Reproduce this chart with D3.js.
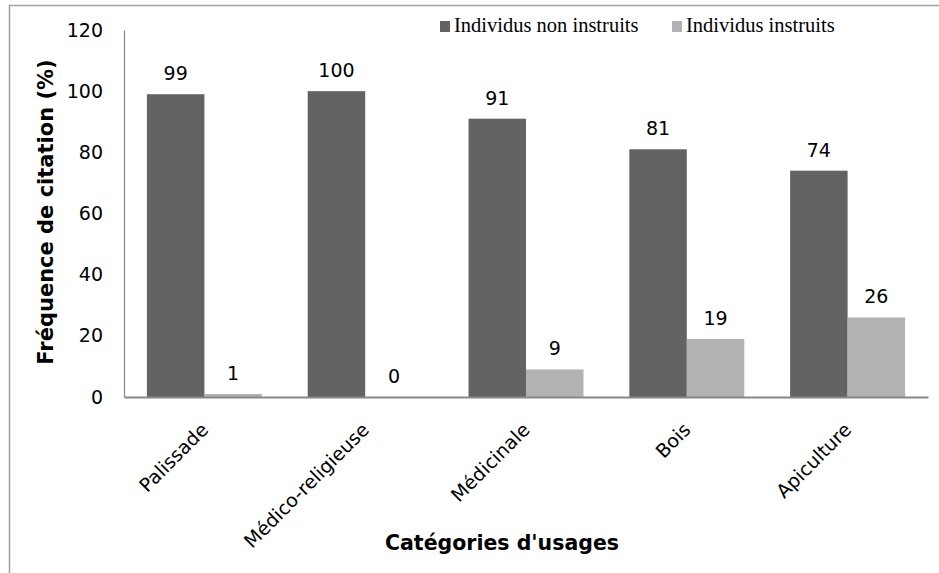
<!DOCTYPE html>
<html><head><meta charset="utf-8">
<script src="https://cdn.jsdelivr.net/npm/d3@7"></script>
<style>body{margin:0;background:#fff;} svg{display:block;}</style>
</head><body>
<svg id="c" width="939" height="573"></svg>
<script>
const categories = ["Palissade","Médico-religieuse","Médicinale","Bois","Apiculture"];
const seriesNames = ["Individus non instruits","Individus instruits"];
const nonInstruits = [99,100,91,81,74];
const instruits = [1,0,9,19,26];
const yTicks = [0,20,40,60,80,100,120];
const colors = ["#636363","#b2b2b2"];

const svg = d3.select("#c");
const W = 939, H = 573;
svg.append("rect").attr("x",9.5).attr("y",5.5).attr("width",W+10).attr("height",H+10)
  .attr("fill","#fff").attr("stroke","#a0a0a0").attr("stroke-width",1.5);

const x0 = 124, x1 = 928, yTop = 30, yBot = 397;
const x = d3.scaleBand().domain(categories).range([x0,x1]).paddingInner(0.285).paddingOuter(0.1425);
const xs = d3.scaleBand().domain(seriesNames).range([0,x.bandwidth()]);
const y = d3.scaleLinear().domain([0,120]).range([yBot,yTop]);

const data = categories.map((c,i)=>({c, vals:[nonInstruits[i],instruits[i]]}));

const g = svg.append("g");
const groups = g.selectAll("g.cat").data(data).join("g").attr("transform",d=>`translate(${x(d.c)},0)`);
groups.selectAll("rect").data(d=>d.vals.map((v,j)=>({v,j}))).join("rect")
  .attr("x",d=>xs(seriesNames[d.j])).attr("width",xs.bandwidth())
  .attr("y",d=>y(d.v)).attr("height",d=>yBot-y(d.v)).attr("fill",d=>colors[d.j]);
groups.selectAll("text").data(d=>d.vals.map((v,j)=>({v,j}))).join("text")
  .attr("x",d=>xs(seriesNames[d.j])+xs.bandwidth()/2).attr("y",d=>y(d.v)-14)
  .attr("text-anchor","middle").attr("font-family","DejaVu Sans").attr("font-size",19).attr("fill","#000")
  .text(d=>d.v);

// y axis
const yAxis = d3.axisLeft(y).tickValues(yTicks).tickSize(0).tickPadding(21);
const ya = svg.append("g").attr("transform",`translate(${x0},0)`).call(yAxis);
ya.select(".domain").attr("stroke","#888").attr("stroke-width",1.2);
ya.selectAll("text").attr("font-family","DejaVu Sans").attr("font-size",19).attr("fill","#000");

// x axis
const xAxis = d3.axisBottom(x).tickSize(0).tickFormat("");
const xa = svg.append("g").attr("transform",`translate(0,${yBot})`).call(xAxis);
xa.select(".domain").attr("stroke","#888").attr("stroke-width",1.8);

svg.append("g").selectAll("text").data(categories).join("text")
  .attr("transform",d=>`translate(${x(d)+x.bandwidth()/2+5},${yBot+34}) rotate(-45)`)
  .attr("text-anchor","end")
  .attr("font-family","DejaVu Sans").attr("font-size",19).attr("fill","#000").text(d=>d);

// titles
svg.append("text").attr("transform",`translate(53,212) rotate(-90)`).attr("text-anchor","middle")
  .attr("font-family","DejaVu Sans").attr("font-weight","bold").attr("font-size",21).text("Fréquence de citation (%)");
svg.append("text").attr("x",502).attr("y",550).attr("text-anchor","middle")
  .attr("font-family","DejaVu Sans").attr("font-weight","bold").attr("font-size",20.5).text("Catégories d'usages");

// legend
const legX = [440,672];
const lg = svg.append("g").selectAll("g").data(seriesNames).join("g")
  .attr("transform",(d,i)=>`translate(${legX[i]},20)`);
lg.append("rect").attr("width",10).attr("height",11).attr("y",1).attr("fill",(d,i)=>colors[i]);
lg.append("text").attr("x",14).attr("y",12).attr("font-family","Liberation Serif").attr("font-size",20.5)
  .attr("fill","#000").text(d=>d);
</script>
</body></html>
